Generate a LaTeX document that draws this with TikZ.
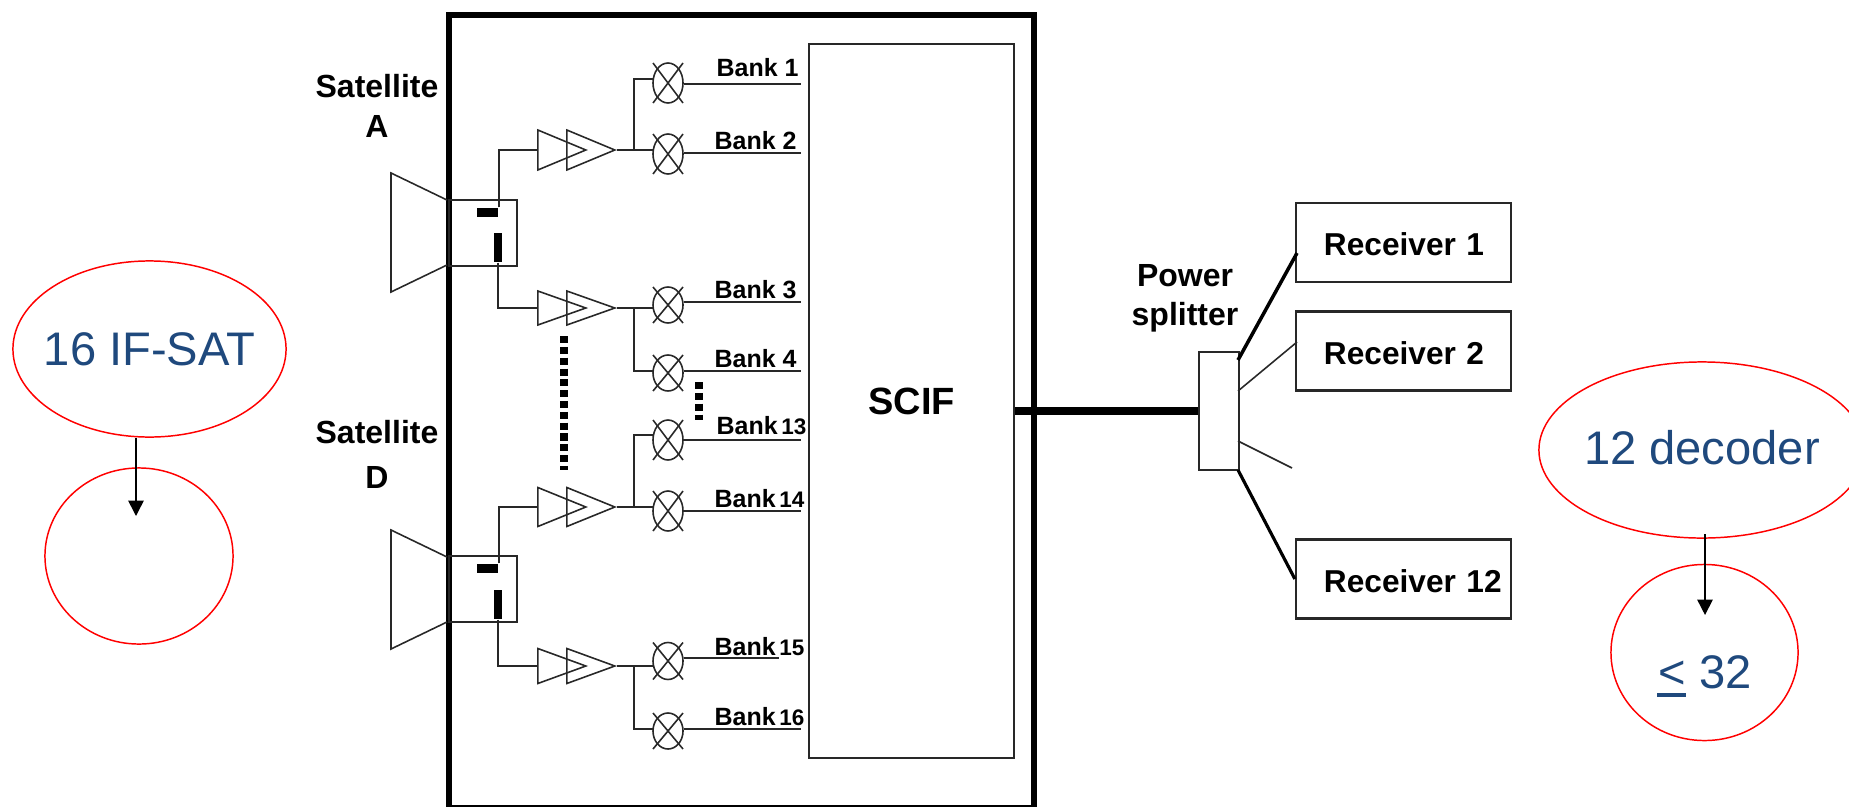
\documentclass[tikz,border=0pt]{standalone}
\usepackage{fontspec}
\setmainfont{Liberation Sans}
\usetikzlibrary{arrows.meta, shapes.geometric}
\definecolor{noteblue}{RGB}{31,73,125}
\definecolor{noteline}{RGB}{255,0,0}
\definecolor{wiregray}{RGB}{40,40,40}
\newcommand{\gapnum}{\kern.14em\fontsize{6.4}{9}\selectfont}
\newcommand{\lessbar}{\rlap{\rule[-2.6pt]{8.2pt}{1.1pt}}\kern.3pt<}

\begin{document}
\begin{tikzpicture}[x=0.01cm, y=-0.01cm,
  wire/.style={draw=wiregray, line width=0.45pt},
  boldtxt/.style={font=\fontsize{9.1}{11}\selectfont\bfseries, align=center, inner sep=0pt},
  banktxt/.style={font=\fontsize{7.1}{9}\selectfont\bfseries, anchor=base west, inner sep=0pt},
  notetxt/.style={font=\fontsize{13.4}{16}\selectfont, text=noteblue, inner sep=0pt},
  noteoval/.style={ellipse, draw=noteline, line width=0.42pt},
  blackbar/.style={fill=black, inner sep=0pt},
  ampl/.style={isosceles triangle, isosceles triangle stretches, wire, inner sep=0pt,
               anchor=lower side, minimum width=#1, minimum height=0.48cm},
  mixer/.style={ellipse, wire, inner sep=0pt, minimum width=0.3cm},
  rxbox/.style={rectangle, wire, line width=0.6pt, minimum height=0.79cm, inner xsep=0pt,
                text width=2.15cm, align=left, font=\fontsize{9}{11}\selectfont\bfseries,
                execute at begin node={\hspace*{.28cm}\rule{0pt}{7.6pt}}},
  dots/.style={line width=2pt, dash pattern=on 2pt off 1.08pt},
  tipline/.style={-{Stealth[length=4.4pt, width=4.4pt, inset=0pt]}, black, line width=0.45pt}]
  \useasboundingbox (0,0) rectangle (1849,806);

  % Outer housing and combiner
  \draw[line width=1.5pt] (449,15) rectangle (1034,808);
  \node[rectangle, wire, minimum width=2.05cm, minimum height=7.14cm,
        font=\fontsize{10.8}{13}\selectfont\bfseries] (scif) at (911.5,401) {SCIF};

  % Horns and hubs
  \draw[wire] (447,200) -- (391,173) -- (391,292) -- (447,265);
  \draw[wire] (447,557) -- (391,530) -- (391,649) -- (447,622);
  \node[rectangle, wire, minimum width=0.68cm, minimum height=0.66cm] (hubA) at (483,233) {};
  \node[rectangle, wire, minimum width=0.68cm, minimum height=0.66cm] (hubD) at (483,589) {};
  \node[blackbar, minimum width=0.21cm, minimum height=0.09cm] (barAh) at (487.5,212.5) {};
  \node[blackbar, minimum width=0.08cm, minimum height=0.29cm] (barAv) at (498,247.5) {};
  \node[blackbar, minimum width=0.21cm, minimum height=0.09cm] (barDh) at (487.5,568.5) {};
  \node[blackbar, minimum width=0.08cm, minimum height=0.29cm] (barDv) at (498,604.5) {};
  \node[boldtxt] (satA) at (377,106) {Satellite\\[0.4pt]A};
  \node[boldtxt] (satD) at (377,454) {Satellite\\[1.8pt]D};

  % Amplifier pairs
  \node[ampl=0.4cm] (amp1a) at (537,150) {};
  \node[ampl=0.4cm] (amp1b) at (566,150) {};
  \node[ampl=0.34cm] (amp2a) at (537,308) {};
  \node[ampl=0.34cm] (amp2b) at (566,308) {};
  \node[ampl=0.39cm] (amp3a) at (537,507) {};
  \node[ampl=0.39cm] (amp3b) at (566,507) {};
  \node[ampl=0.35cm] (amp4a) at (537,666) {};
  \node[ampl=0.35cm] (amp4b) at (566,666) {};
  \draw[wire] (barAh.north east) |- (amp1a.lower side);
  \draw[wire] (barAv.south) |- (amp2a.lower side);
  \draw[wire] (barDh.north east) |- (amp3a.lower side);
  \draw[wire] (barDv.south) |- (amp4a.lower side);

  % Mixers and bank lines
  \foreach \k/\cy/\hh/\iny/\outy/\endx/\lx/\ly/\txt in {
      1/83/40/79/84/801/716/77/{Bank 1}, 2/154/40/150/153/801/714/149/{Bank 2},
      3/305/36/308/302/801/714/298/{Bank 3}, 4/373/36/371/371/801/714/367/{Bank 4},
      13/440/40/435/440/801/716/434/{Bank\gapnum 13}, 14/511/40/507/511/801/714/507/{Bank\gapnum 14},
      15/661/37/666/658/779/714/655/{Bank\gapnum 15}, 16/731/36/729/729/801/714/725/{Bank\gapnum 16}} {
    \node[mixer, minimum height=\hh*0.01cm] (mx\k) at (668,\cy) {};
    \draw[wire] ([shift={(-15,-\hh/2)}]mx\k.center) -- ([shift={(15,\hh/2)}]mx\k.center);
    \draw[wire] ([shift={(-15,\hh/2)}]mx\k.center) -- ([shift={(15,-\hh/2)}]mx\k.center);
    \coordinate (in\k) at (653,\iny);
    \coordinate (bk\k) at (\endx,\outy);
    \draw[wire, line width=0.55pt] (mx\k.east |- bk\k) -- (bk\k);
    \node[banktxt] (lb\k) at (\lx,\ly) {\txt};
  }
  \draw[wire] (amp1b.apex) -- (in2);
  \draw[wire] (amp2b.apex) -- (in3);
  \draw[wire] (amp3b.apex) -- (in14);
  \draw[wire] (amp4b.apex) -- (in15);
  \coordinate (tap1) at (634,150);
  \coordinate (tap2) at (634,308);
  \coordinate (tap3) at (634,507);
  \coordinate (tap4) at (634,666);
  \draw[wire] (tap1) |- (in1);
  \draw[wire] (tap2) |- (in4);
  \draw[wire] (tap3) |- (in13);
  \draw[wire] (tap4) |- (in16);

  % Dotted runs
  \coordinate (dotA) at (564,336);
  \coordinate (dotB) at (564,470);
  \coordinate (dotC) at (699,382);
  \coordinate (dotD) at (699,420);
  \draw[dots] (dotA) -- (dotB);
  \draw[dots] (dotC) -- (dotD);

  % Splitter and receivers
  \node[rectangle, wire, minimum width=0.4cm, minimum height=1.18cm] (spl) at (1219,411) {};
  \node[boldtxt] (spltxt) at (1185,298) {Power\\[0pt]splitter};
  \draw[line width=2.5pt] (scif.east |- spl.west) -- (spl.west);
  \node[rxbox] (rx1) at (1403.5,242.5) {Receiver 1};
  \node[rxbox] (rx2) at (1403.5,351) {Receiver 2};
  \node[rxbox] (rx12) at (1403.5,579) {Receiver 12};
  \coordinate (sp1) at (1238,360);
  \coordinate (sp2) at (1238,391);
  \coordinate (sp3) at (1238,441);
  \coordinate (sp4) at (1238,470);
  \coordinate (rxt1) at (1297,253);
  \coordinate (rxt2) at (1297,342);
  \coordinate (rxt3) at (1292,468);
  \draw[line width=1pt] (sp1) -- (rxt1);
  \draw[wire] (sp2) -- (rxt2);
  \draw[wire] (sp3) -- (rxt3);
  \draw[line width=0.9pt] (sp4) -- (rx12.west);

  % Notes left
  \node[noteoval, notetxt, minimum width=2.73cm, minimum height=1.76cm, text height=0.34cm, text depth=0.02cm] (ifsat) at (149.5,349) {\makebox[0pt]{16 IF-SAT}};
  \node[noteoval, minimum width=1.88cm, minimum height=1.76cm] (ifcirc) at (139,556) {};
  \coordinate (tipL) at (136,516);
  \draw[tipline] (tipL |- ifsat.265) -- (tipL);

  % Notes right
  \node[noteoval, notetxt, minimum width=3.26cm, minimum height=1.76cm, text height=0.34cm, text depth=0.06cm] (dec) at (1702,450) {\makebox[0pt]{12 decoder}};
  \node[noteoval, notetxt, minimum width=1.87cm, minimum height=1.76cm, text height=0.71cm, text depth=0cm] (limit) at (1704.5,652.5) {\lessbar{} 32};
  \coordinate (tailR) at (1705,534);
  \coordinate (tipR) at (1705,615);
  \draw[tipline] (tailR) -- (tipR);
\end{tikzpicture}
\end{document}
